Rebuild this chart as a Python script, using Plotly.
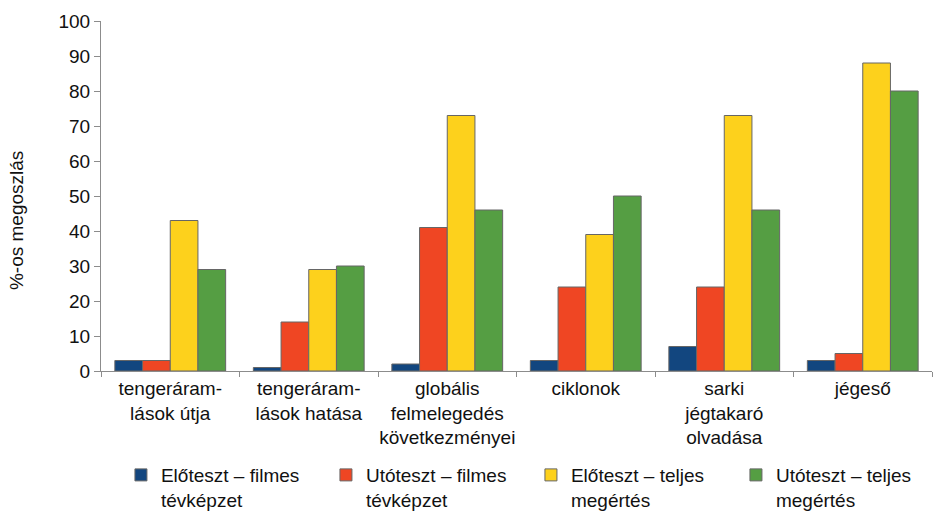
import plotly.graph_objects as go

categories = [
    "tengeráram-<br>lások útja",
    "tengeráram-<br>lások hatása",
    "globális<br>felmelegedés<br>következményei",
    "ciklonok",
    "sarki<br>jégtakaró<br>olvadása",
    "jégeső",
]

series_names = [
    "Előteszt – filmes<br>tévképzet",
    "Utóteszt – filmes<br>tévképzet",
    "Előteszt – teljes<br>megértés",
    "Utóteszt – teljes<br>megértés",
]

pre_film = [3, 1, 2, 3, 7, 3]
post_film = [3, 14, 41, 24, 24, 5]
pre_full = [43, 29, 73, 39, 73, 88]
post_full = [29, 30, 46, 50, 46, 80]

colors = ["#12467f", "#ef4623", "#fdd11c", "#559e43"]

fig = go.Figure()
for name, vals, col in zip(series_names, [pre_film, post_film, pre_full, post_full], colors):
    fig.add_trace(go.Bar(
        x=categories, y=vals, name=name,
        marker=dict(color=col, line=dict(color="#666666", width=1)),
    ))

font_family = "Arial"

fig.update_layout(
    width=934, height=514,
    margin=dict(l=101, r=2, t=21, b=143, autoexpand=False),
    paper_bgcolor="white", plot_bgcolor="white",
    barmode="group", bargap=0.2, bargroupgap=0,
    font=dict(family=font_family, size=19, color="#111111"),
    showlegend=True,
    legend=dict(
        orientation="h", x=0.024, y=-0.243, xanchor="left", yanchor="top",
        entrywidth=160, entrywidthmode="pixels", valign="top",
        font=dict(size=19), traceorder="normal",
    ),
    xaxis=dict(
        showline=True, linecolor="#8c8c8c", linewidth=1,
        ticks="outside", tickson="boundaries", ticklen=5, tickcolor="#8c8c8c",
        showgrid=False, tickfont=dict(size=19), tickangle=0,
    ),
    yaxis=dict(
        range=[0, 100], dtick=10, showline=True, linecolor="#8c8c8c", linewidth=1,
        ticks="outside", ticklen=6, tickcolor="#8c8c8c", showgrid=False,
        zeroline=False, tickfont=dict(size=19),
    ),
    annotations=[dict(
        text="%-os megoszlás", textangle=-90, showarrow=False,
        xref="paper", yref="paper", x=-0.101, y=0.4286,
        xanchor="center", yanchor="middle", font=dict(size=19),
    )],
)

fig.write_html("out.html")
